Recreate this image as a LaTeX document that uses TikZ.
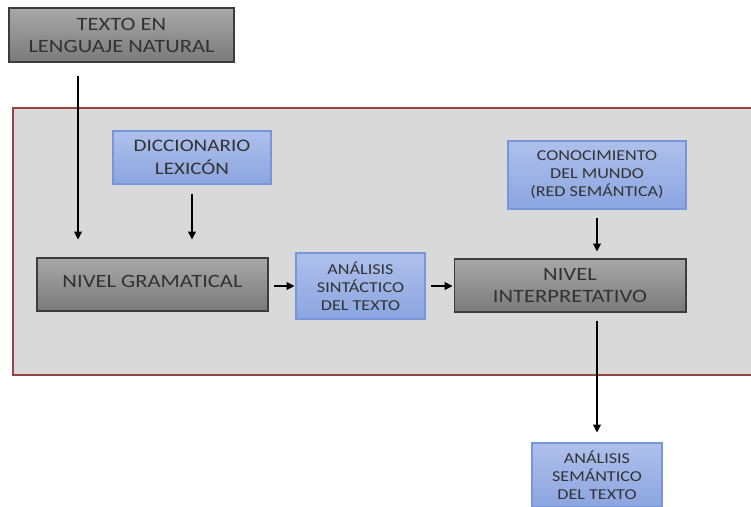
\documentclass[tikz,border=0pt]{standalone}
\usepackage{fontspec}
\setmainfont{Carlito}[FakeStretch=1.2]
\usetikzlibrary{arrows.meta}
\definecolor{graytop}{RGB}{168,168,168}
\definecolor{graybot}{RGB}{122,122,122}
\definecolor{grayline}{RGB}{60,60,60}
\definecolor{bluetop}{RGB}{174,192,236}
\definecolor{bluebot}{RGB}{140,165,224}
\definecolor{blueline}{RGB}{120,150,220}
\definecolor{panelfill}{RGB}{217,217,217}
\definecolor{panelline}{RGB}{150,70,65}
\definecolor{txt}{RGB}{50,50,50}

\begin{document}
\begin{tikzpicture}[x=0.02cm, y=-0.02cm, ->, >={Triangle[width=4.5pt,length=4.5pt]}, line width=0.6pt,
    graybox/.style={rectangle, draw=grayline, top color=graytop, bottom color=graybot, text=txt, align=center, font=\fontsize{10.7}{12.5}\selectfont, inner sep=0pt},
    bluebox/.style={rectangle, draw=blueline, top color=bluetop, bottom color=bluebot, text=txt, align=center, font=\fontsize{8.6}{10.3}\selectfont, inner sep=0pt}]

                \useasboundingbox (0,0) rectangle (751,507);

                % Panel
                \fill[panelfill] (13,108) rectangle (751,375);
                \draw[-, panelline] (751,108) -- (13,108) -- (13,375) -- (751,375);

                % Nodes
                \node (texto) [graybox, minimum width=4.5cm, minimum height=1.08cm] at (121.5,35) {TEXTO EN\\LENGUAJE NATURAL};
                \node (dicc) [bluebox, font=\fontsize{10}{12.8}\selectfont, minimum width=3.16cm, minimum height=1.06cm] at (192,157.5) {DICCIONARIO\\LEXICÓN};
                \node (gram) [graybox, minimum width=4.62cm, minimum height=1.06cm] at (152.5,284.5) {\raisebox{4pt}{NIVEL GRAMATICAL}};
                \node (sint) [bluebox, minimum width=2.58cm, minimum height=1.32cm] at (360.5,286) {ANÁLISIS\\SINTÁCTICO\\DEL TEXTO};
                \node (interp) [graybox, minimum width=4.64cm, minimum height=1.06cm] at (570,285.5) {NIVEL\\INTERPRETATIVO};
                \node (conoc) [bluebox, minimum width=3.56cm, minimum height=1.36cm] at (597,175) {CONOCIMIENTO\\DEL MUNDO\\(RED SEMÁNTICA)};
                \node (sem) [bluebox, minimum width=2.6cm, minimum height=1.28cm] at (597,475) {ANÁLISIS\\SEMÁNTICO\\DEL TEXTO};

                % Vertical arrows
                \draw[shorten <=0.26cm, shorten >=0.36cm] ([xshift=-0.87cm]texto.south) -- ([xshift=-0.87cm]texto.south |- gram.north);
                \draw[shorten <=0.18cm, shorten >=0.36cm] (dicc.south) -- (dicc.south |- gram.north);
                \draw[shorten <=0.16cm, shorten >=0.14cm] (conoc.south) -- (conoc.south |- interp.north);
                \draw[shorten <=0.16cm, shorten >=0.2cm] (interp.south -| sem.north) -- (sem.north);

                % Horizontal arrows
                \draw[shorten <=0.1cm, shorten >=0.02cm] (sint.west -| gram.east) -- (sint.west);
                \draw[shorten <=0.1cm, shorten >=0.02cm] (sint.east) -- (sint.east -| interp.west);

            \end{tikzpicture}
\end{document}
